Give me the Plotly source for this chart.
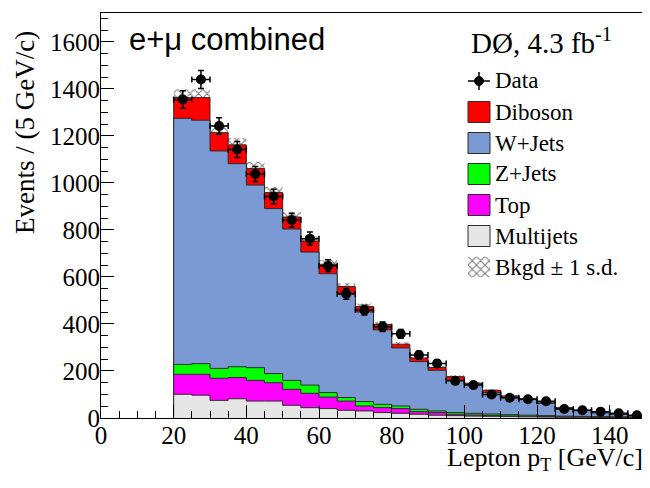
import numpy as np
import plotly.graph_objects as go

# ---- data (5 GeV bins from 20 to 150 GeV/c) ----
pt_edges = [20, 25, 30, 35, 40, 45, 50, 55, 60, 65, 70, 75, 80, 85, 90,
            95, 100, 105, 110, 115, 120, 125, 130, 135, 140, 145, 150]
multijets = [101, 97, 75, 82, 72, 72, 54, 44, 40, 33, 30, 23, 20, 16, 12, 10,
             8, 7, 6, 5, 4, 3, 3, 2, 2, 1]
top = [85, 89, 94, 90, 88, 78, 68, 61, 49, 39, 21, 21, 20, 11, 11, 6,
       5, 4, 3, 2, 2, 2, 1, 1, 1, 1]
zjets = [42, 45, 42, 46, 54, 39, 38, 35, 19, 15, 19, 14, 11, 10, 7, 7,
         7, 6, 5, 5, 4, 3, 3, 3, 2, 2]
wjets = [1047, 1036, 925, 864, 777, 702, 644, 566, 506, 444, 381, 317, 247, 203, 173, 137,
         123, 91, 74, 66, 52, 34, 24, 16, 10, 4]
diboson = [88, 96, 78, 80, 70, 68, 51, 47, 40, 28, 23, 23, 16, 15, 12, 16,
           5, 10, 6, 4, 3, 2, 2, 1, 1, 1]
bkgd_err = [35, 35, 32, 30, 28, 25, 22, 20, 18, 15, 13, 11, 9, 8, 7, 6,
            5, 4, 4, 3, 3, 2, 2, 2, 1, 1]
data = [1355, 1440, 1242, 1142, 1038, 942, 842, 763, 648, 528, 459, 388, 358, 268, 232, 158,
        140, 100, 86, 80, 71, 38, 33, 27, 20, 12]
data_err = [37, 38, 35, 34, 32, 31, 29, 28, 25, 23, 21, 20, 19, 16, 15, 13,
            12, 10, 9, 9, 8, 6, 6, 5, 4, 3]

x_ticks = [0, 20, 40, 60, 80, 100, 120, 140]
y_ticks = [0, 200, 400, 600, 800, 1000, 1200, 1400, 1600]

edges = np.array(pt_edges, dtype=float)
centers = 0.5 * (edges[:-1] + edges[1:])
widths = edges[1:] - edges[:-1]

c1 = np.array(multijets, dtype=float)
c2 = c1 + np.array(top)
c3 = c2 + np.array(zjets)
c4 = c3 + np.array(wjets)
c5 = c4 + np.array(diboson)
err = np.array(bkgd_err, dtype=float)

SERIF = "Liberation Serif"
OUT = "#2b2b2b"


def step_trace(vals, color):
    vals = list(vals)
    xs = [edges[0]] + list(edges[:-1]) + [edges[-1], edges[-1]]
    ys = [0] + vals + [vals[-1], 0]
    return go.Scatter(x=xs, y=ys, mode="lines", line=dict(shape="hv", color=OUT, width=1),
                      fill="tozeroy", fillcolor=color, showlegend=False, hoverinfo="skip")


colors = {"Diboson": "#FF0000", "W+Jets": "#7B99D2", "Z+Jets": "#00FF00",
          "Top": "#FF00FF", "Multijets": "#E6E6E6"}

fig = go.Figure()
fig.add_trace(step_trace(c5, colors["Diboson"]))
fig.add_trace(step_trace(c4, colors["W+Jets"]))
fig.add_trace(step_trace(c3, colors["Z+Jets"]))
fig.add_trace(step_trace(c2, colors["Top"]))
fig.add_trace(step_trace(c1, colors["Multijets"]))

pattern = dict(shape="x", fgcolor="black", bgcolor="rgba(0,0,0,0)", size=6, solidity=0.35)
fig.add_trace(go.Bar(x=centers, y=2 * err, base=c5 - err, width=widths,
                     marker=dict(color="rgba(0,0,0,0)", line=dict(width=0), pattern=pattern),
                     showlegend=False, hoverinfo="skip"))

fig.add_trace(go.Scatter(
    x=centers, y=data, mode="markers",
    marker=dict(color="black", size=10, symbol="circle"),
    error_y=dict(type="data", array=data_err, color="black", thickness=1.5, width=3),
    error_x=dict(type="constant", value=2.5, color="black", thickness=1.5, width=3),
    showlegend=False))

# ---- layout helpers (screen pixel -> paper); page body adds an 8px offset ----
OFF = 8
W, H = 650 - OFF, 488 - OFF
L, R, T, B = 101, 646, 13, 418


def px(x):
    return (x - L) / (R - L)


def py(y):
    return (B - y) / (B - T)


shapes = []
annotations = []
rows = [81, 112, 143, 174, 205, 236, 267]
labels = ["Data", "Diboson", "W+Jets", "Z+Jets", "Top", "Multijets", "Bkgd \u00b1 1 s.d."]
bx0, bx1 = 468, 490
for i, (r, lab) in enumerate(zip(rows, labels)):
    annotations.append(dict(x=px(493), y=py(r), xref="paper", yref="paper", text=lab,
                            showarrow=False, xanchor="left", yanchor="middle",
                            font=dict(family=SERIF, size=23, color="black")))
    if lab in colors:
        shapes.append(dict(type="rect", xref="paper", yref="paper",
                           x0=px(bx0), x1=px(bx1), y0=py(r + 10.5), y1=py(r - 10.5),
                           fillcolor=colors[lab], line=dict(color=OUT, width=1)))
# data legend icon
r = rows[0]
shapes.append(dict(type="line", xref="paper", yref="paper", x0=px(bx0), x1=px(bx1),
                   y0=py(r), y1=py(r), line=dict(color="black", width=1.5)))
shapes.append(dict(type="line", xref="paper", yref="paper", x0=px(479), x1=px(479),
                   y0=py(r - 9), y1=py(r + 9), line=dict(color="black", width=1.5)))
shapes.append(dict(type="circle", xref="paper", yref="paper", x0=px(474.5), x1=px(483.5),
                   y0=py(r + 4.5), y1=py(r - 4.5), fillcolor="black", line=dict(color="black", width=1)))

# hatch legend icon on a hidden helper axis
fig.add_trace(go.Bar(x=[0], y=[1], width=[1], xaxis="x2", yaxis="y2",
                     marker=dict(color="rgba(0,0,0,0)", line=dict(width=0), pattern=pattern),
                     showlegend=False, hoverinfo="skip"))

annotations.append(dict(x=px(127), y=py(40), xref="paper", yref="paper", text="e+\u03bc combined",
                        showarrow=False, xanchor="left", yanchor="middle",
                        font=dict(family="Liberation Sans", size=31, color="black")))
annotations.append(dict(x=px(469), y=py(41), xref="paper", yref="paper",
                        text="D\u00d8, 4.3 fb<sup>-1</sup>",
                        showarrow=False, xanchor="left", yanchor="middle",
                        font=dict(family=SERIF, size=29, color="black")))
annotations.append(dict(x=px(645), y=py(459), xref="paper", yref="paper",
                        text="Lepton p<sub>T</sub> [GeV/c]",
                        showarrow=False, xanchor="right", yanchor="middle",
                        font=dict(family=SERIF, size=26, color="black")))
annotations.append(dict(x=px(25), y=py(133), xref="paper", yref="paper",
                        text="Events / (5 GeV/c)", textangle=-90,
                        showarrow=False, xanchor="center", yanchor="middle",
                        font=dict(family=SERIF, size=27, color="black")))

fig.update_layout(
    width=W, height=H,
    margin=dict(l=L - OFF, r=650 - R, t=T - OFF, b=488 - B, autoexpand=False),
    paper_bgcolor="white", plot_bgcolor="white",
    showlegend=False, barmode="overlay",
    font=dict(family=SERIF, size=25, color="black"),
    xaxis=dict(range=[0, 150], tickvals=x_ticks, ticks="inside", ticklen=13, tickwidth=1,
               tickcolor="black", showline=True, linecolor="black", linewidth=1, mirror=True,
               showgrid=False, zeroline=False, tickfont=dict(family=SERIF, size=25),
               automargin=False, ticklabelstandoff=-5,
               minor=dict(dtick=5, ticks="inside", ticklen=7, tickcolor="black", showgrid=False)),
    yaxis=dict(range=[0, 1723], tickvals=y_ticks, ticks="inside", ticklen=13, tickwidth=1,
               tickcolor="black", showline=True, linecolor="black", linewidth=1, mirror=True,
               showgrid=False, zeroline=False, tickfont=dict(family=SERIF, size=25),
               automargin=False, ticklabelstandoff=-5,
               minor=dict(dtick=50, ticks="inside", ticklen=7, tickcolor="black", showgrid=False)),
    xaxis2=dict(domain=[px(bx0), px(bx1)], range=[-0.5, 0.5], visible=False, anchor="y2"),
    yaxis2=dict(domain=[py(rows[6] + 10.5), py(rows[6] - 10.5)], range=[0, 1], visible=False, anchor="x2"),
    shapes=shapes, annotations=annotations,
)

fig.write_html("out.html")
